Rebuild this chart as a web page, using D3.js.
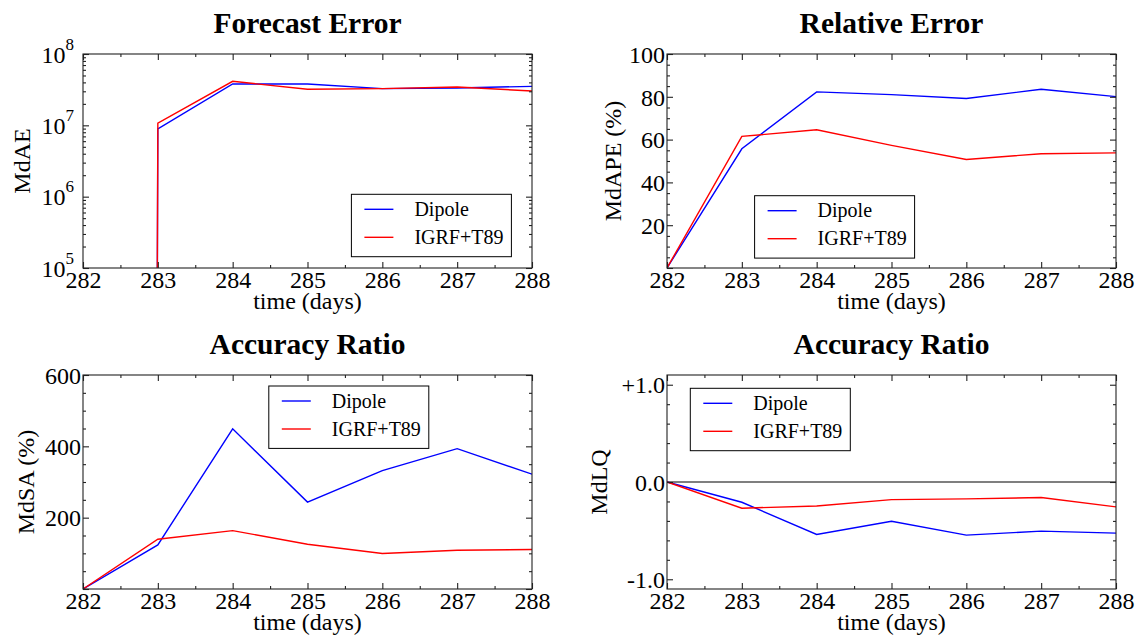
<!DOCTYPE html>
<html>
<head>
<meta charset="utf-8">
<script src="https://cdn.jsdelivr.net/npm/d3@7"></script>
<style>
  html, body { margin: 0; padding: 0; background: #fff; }
  svg { display: block; font-family: "Liberation Serif", "Times New Roman", serif; }
</style>
</head>
<body>
<svg id="chart" width="1136" height="637"></svg>
<script>
// ---- data ----
const days = [282, 283, 284, 285, 286, 287, 288];
const seriesNames = ["Dipole", "IGRF+T89"];
const seriesColors = ["#0000ff", "#ff0000"];

const mdaeDipole = [0, 8.9e6, 3.8e7, 3.8e7, 3.27e7, 3.34e7, 3.52e7];
const mdaeIgrf   = [0, 1.07e7, 4.14e7, 3.2e7, 3.27e7, 3.45e7, 3.03e7];

const mdapeDipole = [0, 55.7, 82.3, 81.0, 79.2, 83.5, 80.1];
const mdapeIgrf   = [0, 61.5, 64.6, 57.3, 50.7, 53.4, 53.8];

const mdsaDipole = [0, 123.7, 449, 243.7, 332, 393.5, 322];
const mdsaIgrf   = [0, 139.5, 163.7, 125.6, 99.5, 108.8, 110.7];

const mdlqDipole = [0, -0.208, -0.539, -0.403, -0.546, -0.505, -0.526];
const mdlqIgrf   = [0, -0.270, -0.246, -0.181, -0.174, -0.160, -0.256];

const xTicks = [282, 283, 284, 285, 286, 287, 288];
const xMinor = [282.5, 283.5, 284.5, 285.5, 286.5, 287.5];

const logTicks = [1e5, 1e6, 1e7, 1e8];
const logExp = ["5", "6", "7", "8"];
const logMinor = [];
[1e5, 1e6, 1e7].forEach(b => { for (let k = 2; k <= 9; k++) logMinor.push(b * k); });

const apeTicks = [0, 20, 40, 60, 80, 100];
const apeLabels = ["", "20", "40", "60", "80", "100"];
const apeMinor = d3.range(5, 100, 5).filter(v => v % 20 !== 0);

const saTicks = [0, 200, 400, 600];
const saLabels = ["", "200", "400", "600"];
const saMinor = d3.range(50, 600, 50).filter(v => v % 200 !== 0);

const lqTicks = [-1, 0, 1];
const lqLabels = ["-1.0", "0.0", "+1.0"];
const lqMinor = [-0.8, -0.6, -0.4, -0.2, 0.2, 0.4, 0.6, 0.8];

// ---- layout ----
const svg = d3.select("#chart");
const W = 449, H = 214;

function panel(o) {
  const g = svg.append("g").attr("transform", `translate(${o.left},${o.top})`);
  const x = d3.scaleLinear().domain([282, 288]).range([0, W]);
  const y = o.log
    ? d3.scaleLog().domain(o.domain).range([H, 0])
    : d3.scaleLinear().domain(o.domain).range([H, 0]);

  const id = "clip" + o.key;
  g.append("clipPath").attr("id", id).append("rect").attr("width", W).attr("height", H);

  // zero line
  if (o.zeroLine) {
    g.append("line").attr("x1", 0).attr("x2", W).attr("y1", y(0)).attr("y2", y(0))
      .attr("stroke", "#000").attr("stroke-width", 1.2);
  }

  // data lines
  const line = d3.line()
    .x((d, i) => x(days[i]))
    .y(d => y(o.log ? Math.max(d, 1e-300) : d));
  o.series.forEach((s, i) => {
    g.append("path").attr("d", line(s))
      .attr("fill", "none").attr("stroke", seriesColors[i])
      .attr("stroke-width", 1.4).attr("clip-path", `url(#${id})`);
  });

  // axes: ticks inward on all sides
  const style = sel => { sel.select(".domain").remove(); sel.selectAll("line").attr("stroke", "#222").attr("stroke-width", 1.1); };
  const gx = g.append("g").attr("transform", `translate(0,${H})`)
    .call(d3.axisBottom(x).tickValues(xTicks).tickSize(-6).tickSizeOuter(0).tickFormat(d3.format("d")));
  gx.call(style);
  gx.selectAll("text").attr("dy", null).attr("y", 19.6)
    .attr("font-size", 24).attr("fill", "#000").attr("font-family", "Liberation Serif");
  g.append("g").attr("transform", `translate(0,${H})`)
    .call(d3.axisBottom(x).tickValues(xMinor).tickSize(-3).tickFormat("")).call(style);
  g.append("g").call(d3.axisTop(x).tickValues(xTicks).tickSize(-6).tickFormat("")).call(style);
  g.append("g").call(d3.axisTop(x).tickValues(xMinor).tickSize(-3).tickFormat("")).call(style);

  const gy = g.append("g")
    .call(d3.axisLeft(y).tickValues(o.ticks).tickSize(-6).tickSizeOuter(0)
      .tickFormat((d, i) => o.log ? "10" : o.labels[i]));
  gy.call(style);
  gy.selectAll("text").attr("dy", null).attr("y", 8.2).attr("x", o.log ? -9 : -2)
    .attr("font-size", 24).attr("fill", "#000").attr("font-family", "Liberation Serif");
  if (o.log) {
    gy.selectAll("text").each(function(d, i) {
      d3.select(this).append("tspan").attr("dy", -13).attr("font-size", 17).text(logExp[i]);
    });
  }
  g.append("g").call(d3.axisLeft(y).tickValues(o.minor).tickSize(-3).tickFormat("")).call(style);
  g.append("g").attr("transform", `translate(${W},0)`)
    .call(d3.axisRight(y).tickValues(o.ticks).tickSize(-6).tickFormat("")).call(style);
  g.append("g").attr("transform", `translate(${W},0)`)
    .call(d3.axisRight(y).tickValues(o.minor).tickSize(-3).tickFormat("")).call(style);

  // frame
  g.append("rect").attr("width", W).attr("height", H)
    .attr("fill", "none").attr("stroke", "#222").attr("stroke-width", 1.1);

  // title & labels
  g.append("text").attr("x", W / 2).attr("y", -21.5).attr("text-anchor", "middle")
    .attr("font-size", 29.5).attr("font-weight", "bold").text(o.title);
  g.append("text").attr("x", W / 2).attr("y", H + 40.5).attr("text-anchor", "middle")
    .attr("font-size", 24).text("time (days)");
  g.append("text").attr("transform", `translate(${o.ylabelX},${H / 2}) rotate(-90)`)
    .attr("text-anchor", "middle").attr("dy", "0.35em")
    .attr("font-size", 24).text(o.ylabel);

  // legend
  const lg = g.append("g").attr("transform", `translate(${o.legend[0]},${o.legend[1]})`);
  lg.append("rect").attr("width", 160).attr("height", 62.4)
    .attr("fill", "#fff").attr("stroke", "#000").attr("stroke-width", 1);
  seriesNames.forEach((n, i) => {
    const yy = 15 + i * 28;
    lg.append("line").attr("x1", 13).attr("x2", 42).attr("y1", yy).attr("y2", yy)
      .attr("stroke", seriesColors[i]).attr("stroke-width", 1.4);
    lg.append("text").attr("x", 63).attr("y", yy).attr("dy", "0.33em")
      .attr("font-size", 20).text(n);
  });
}

panel({ key: "a", left: 83, top: 54, log: true, domain: [1e5, 1e8], ticks: logTicks, minor: logMinor,
  title: "Forecast Error", ylabel: "MdAE", ylabelX: -61, series: [mdaeDipole, mdaeIgrf], legend: [268.4, 140.3] });
panel({ key: "b", left: 667, top: 54, domain: [0, 100], ticks: apeTicks, labels: apeLabels, minor: apeMinor,
  title: "Relative Error", ylabel: "MdAPE (%)", ylabelX: -54.5, series: [mdapeDipole, mdapeIgrf], legend: [87.6, 141.7] });
panel({ key: "c", left: 83, top: 375, domain: [0, 600], ticks: saTicks, labels: saLabels, minor: saMinor,
  title: "Accuracy Ratio", ylabel: "MdSA (%)", ylabelX: -57.6, series: [mdsaDipole, mdsaIgrf], legend: [185.8, 11] });
panel({ key: "d", left: 667, top: 375, domain: [-1.1, 1.1], ticks: lqTicks, labels: lqLabels, minor: lqMinor,
  title: "Accuracy Ratio", ylabel: "MdLQ", ylabelX: -68, zeroLine: true, series: [mdlqDipole, mdlqIgrf], legend: [23.3, 13.3] });
</script>
</body>
</html>
